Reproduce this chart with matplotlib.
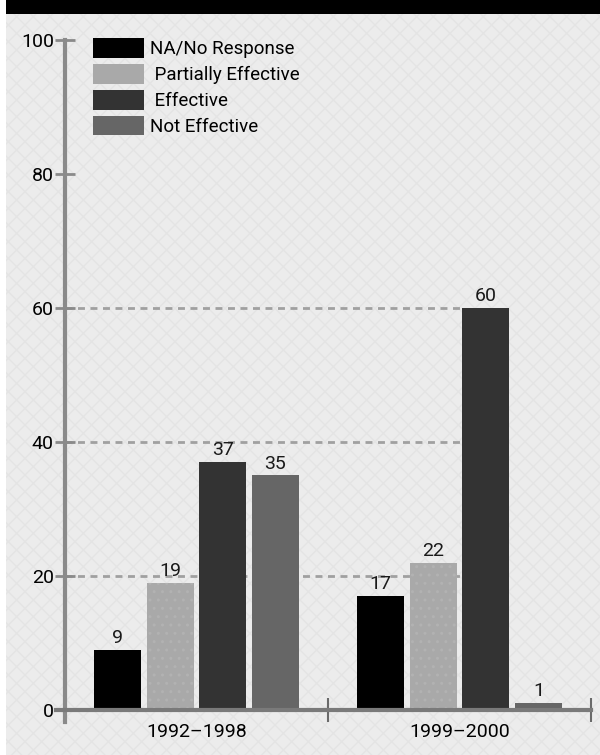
import numpy as np
import matplotlib.pyplot as plt
from matplotlib.patches import Rectangle, Patch
import matplotlib

matplotlib.rcParams['font.family'] = ['Roboto', 'DejaVu Sans']
matplotlib.rcParams['hatch.linewidth'] = 1.0

periods    = ['1992\u20131998', '1999\u20132000']
responses  = ['NA/No Response', ' Partially Effective', ' Effective', 'Not Effective']
values     = [[9, 17], [19, 22], [37, 60], [35, 1]]
bar_colors = ['#000000', '#a9a9a9', '#333333', '#666666']
y_ticks    = [0, 20, 40, 60, 80, 100]
grid_at    = [20, 40, 60]

fig = plt.figure(figsize=(6.0, 7.55), dpi=100)
fig.patch.set_facecolor('#ececec')

# faint diamond texture, white strip on the left, black band at top
fig.add_artist(Rectangle((0, 0), 1, 1, transform=fig.transFigure, facecolor='#ececec',
                         edgecolor='#e4e4e4', hatch='xx', linewidth=0, zorder=-10))
fig.add_artist(Rectangle((0, 0), 6 / 600, 1, transform=fig.transFigure,
                         facecolor='white', edgecolor='none', zorder=-5))
fig.add_artist(Rectangle((6 / 600, 1 - 14 / 755), 1, 14 / 755, transform=fig.transFigure,
                         facecolor='black', edgecolor='none', zorder=-5))

ax = fig.add_axes([65 / 600, 33 / 755, 526 / 600, 682 / 755])
ax.set_facecolor('none')

x = np.arange(len(periods))
step, width = 0.2, 0.18
offsets = (np.arange(len(responses)) - 1.5) * step

for i, (lab, vals, col) in enumerate(zip(responses, values, bar_colors)):
    light = col == '#a9a9a9'
    bars = ax.bar(x + offsets[i], vals, width, color=col, label=lab, zorder=3,
                  hatch='..' if light else None,
                  edgecolor='#b2b2b2' if light else col, linewidth=0)
    ax.bar_label(bars, padding=2, fontsize=14, color='#1a1a1a')

# dashed reference lines stop at the tallest bar of the second period
stop = x[1] + offsets[2] - width / 2
ax.hlines(grid_at, -0.5, stop, colors='#a0a0a0', linestyles=(0, (2.5, 2)),
          linewidth=2, zorder=1)

# baseline pokes slightly past the y axis on the left
ax.axhline(0, xmin=-0.018, xmax=1, color='#7a7a7a', linewidth=3, zorder=4, clip_on=False)

ax.set_xlim(-0.5, 1.5)
ax.set_ylim(-1.8, 100)
for s in ['top', 'right', 'bottom']:
    ax.spines[s].set_visible(False)
ax.spines['left'].set_color('#8a8a8a')
ax.spines['left'].set_linewidth(3)

ax.set_yticks(y_ticks)
ax.tick_params(axis='y', direction='inout', length=14, width=2, color='#8a8a8a',
               labelsize=14, pad=1)
ax.set_xticks(x)
ax.set_xticklabels(periods)
ax.set_xticks([0.5, 1.5], minor=True)
ax.tick_params(axis='x', which='major', length=0, labelsize=14, pad=1)
ax.tick_params(axis='x', which='minor', direction='in', length=17, width=1.5,
               color='#6a6a6a')

handles = [Patch(facecolor=c, edgecolor='none') for c in bar_colors]
ax.legend(handles, responses, loc='upper left', bbox_to_anchor=(93 / 600, 1 - 38 / 755),
          bbox_transform=fig.transFigure, frameon=False, fontsize=13.5,
          handlelength=2.7, handleheight=1.25, labelspacing=0.3, handletextpad=0.35,
          borderpad=0, borderaxespad=0)

plt.savefig('out.png', dpi=100)
plt.close()
